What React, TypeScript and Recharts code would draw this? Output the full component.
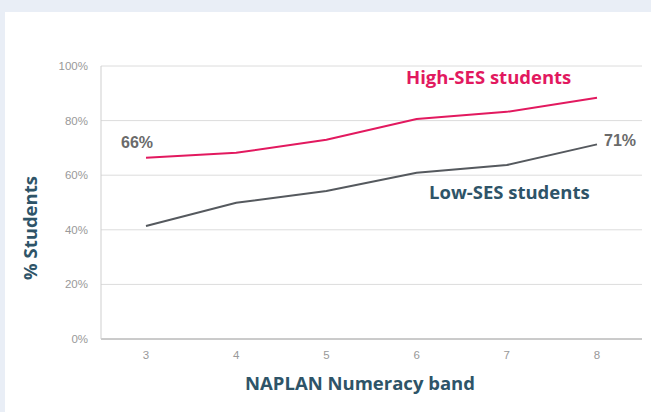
import React from 'react';
import { LineChart, Line, XAxis, YAxis, CartesianGrid, LabelList } from 'recharts';

const bands = ['3', '4', '5', '6', '7', '8'];
const highSes = [66.4, 68.2, 73, 80.6, 83.2, 88.4];
const lowSes = [41.4, 49.9, 54.2, 60.9, 63.7, 71.3];
const yTicks = [0, 20, 40, 60, 80, 100];

const data = bands.map((band, i) => ({ band, high: highSes[i], low: lowSes[i] }));

const PINK = '#e2195f';
const SLATE = '#2e5468';
const GREY_LINE = '#55595e';

const EndLabel = (props: any) => {
  const { x, y, index, value, side } = props;
  const last = bands.length - 1;
  if (side === 'first' && index !== 0) return null;
  if (side === 'last' && index !== last) return null;
  const dx = side === 'first' ? -9 : 23;
  const dy = side === 'first' ? -15 : -4;
  return (
    <text
      x={x + dx}
      y={y + dy}
      textAnchor="middle"
      dominantBaseline="central"
      fill="#6a6a6a"
      fontSize={16}
      fontWeight={700}
      fontFamily="'Liberation Sans', Arial, sans-serif"
    >
      {Math.round(value)}%
    </text>
  );
};

const titleStyle: React.CSSProperties = {
  position: 'absolute',
  fontFamily: "'Open Sans', sans-serif",
  fontWeight: 700,
  fontSize: 18.5,
  whiteSpace: 'nowrap',
  lineHeight: '24px',
};

const App: React.FC = () => {
  return (
    <div style={{ position: 'absolute', left: 0, top: 0, width: 651, height: 412, background: '#e9eef6' }}>
      <div style={{ position: 'absolute', left: 5, top: 12, width: 646, height: 400, background: '#fff' }} />
      <div style={{ position: 'absolute', left: 0, top: 0 }}>
        <LineChart width={651} height={412} data={data} margin={{ top: 66, right: 9, bottom: 43, left: 40 }}>
          <CartesianGrid vertical={false} stroke="#dcdcdc" />
          <XAxis
            dataKey="band"
            padding={{ left: 45, right: 45 }}
            stroke="#a8a8a8"
            tickLine={false}
            tickSize={0}
            tickMargin={12}
            height={30}
            tick={{ fill: '#999', fontSize: 11.5, fontFamily: "'Liberation Sans', Arial, sans-serif" }}
          />
          <YAxis
            domain={[0, 100]}
            ticks={yTicks}
            width={61}
            stroke="#cfcfcf"
            tickLine={false}
            tickSize={0}
            tickMargin={13}
            tickFormatter={(v: number) => `${v}%`}
            tick={{ fill: '#999', fontSize: 11.5, fontFamily: "'Liberation Sans', Arial, sans-serif" }}
          />
          <Line type="linear" dataKey="high" stroke={PINK} strokeWidth={2} dot={false} isAnimationActive={false}>
            <LabelList dataKey="high" content={(p: any) => <EndLabel {...p} side="first" />} />
          </Line>
          <Line type="linear" dataKey="low" stroke={GREY_LINE} strokeWidth={2} dot={false} isAnimationActive={false}>
            <LabelList dataKey="low" content={(p: any) => <EndLabel {...p} side="last" />} />
          </Line>
        </LineChart>
      </div>
      <div style={{ ...titleStyle, left: 406, top: 65, color: PINK }}>High-SES students</div>
      <div style={{ ...titleStyle, left: 429, top: 180, color: SLATE }}>Low-SES students</div>
      <div style={{ ...titleStyle, left: 200, top: 371, width: 320, textAlign: 'center', color: SLATE }}>
        NAPLAN Numeracy band
      </div>
      <div style={{ ...titleStyle, left: 30, top: 228, transform: 'translate(-50%, -50%) rotate(-90deg)', color: SLATE }}>
        % Students
      </div>
    </div>
  );
};

export default App;
